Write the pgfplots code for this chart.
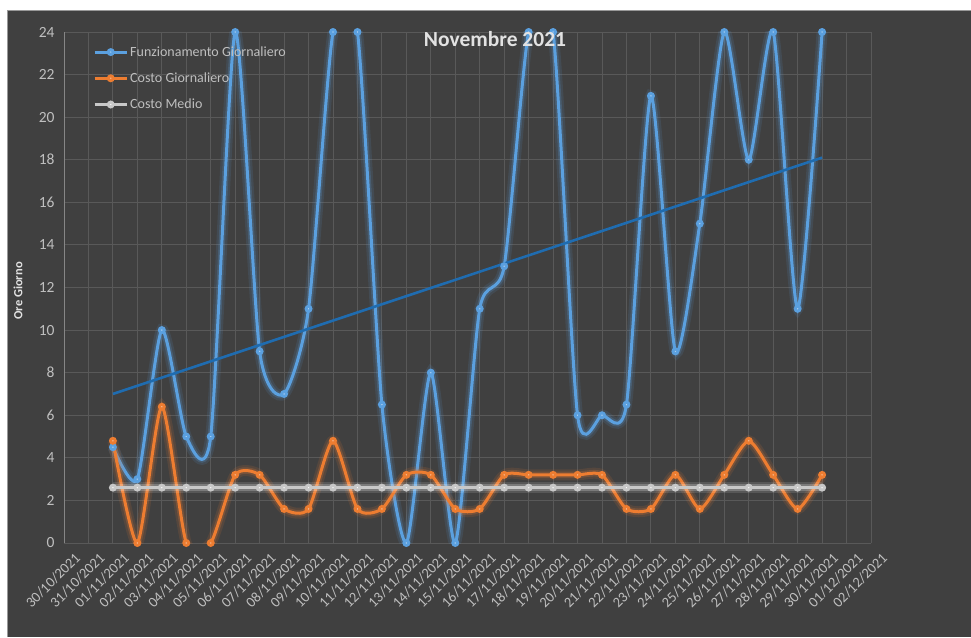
\documentclass[border=0pt]{standalone}
\usepackage{fontspec}
\setmainfont{Carlito}
\usepackage{pgfplots}
\pgfplotsset{compat=1.18}
\usepackage{pgfplotstable}

\definecolor{bg}{HTML}{404040}
\definecolor{gridc}{HTML}{595959}
\definecolor{tickc}{HTML}{BFBFBF}
\definecolor{func}{HTML}{5BA0DF}
\definecolor{cosc}{HTML}{ED7D31}
\definecolor{medc}{HTML}{C8C8C8}
\definecolor{trendc}{HTML}{1F6CB0}

% x: 0 = 30/10/2021 ... 33 = 02/12/2021
\pgfplotstableread{
x  fun  cos  med
2  4.5  4.8  2.6
3  3    0    2.6
4  10   6.4  2.6
5  5    0    2.6
6  5    0    2.6
7  24   3.2  2.6
8  9    3.2  2.6
9  7    1.6  2.6
10 11   1.6  2.6
11 24   4.8  2.6
12 24   1.6  2.6
13 6.5  1.6  2.6
14 0    3.2  2.6
15 8    3.2  2.6
16 0    1.6  2.6
17 11   1.6  2.6
18 13   3.2  2.6
19 24   3.2  2.6
20 24   3.2  2.6
21 6    3.2  2.6
22 6    3.2  2.6
23 6.5  1.6  2.6
24 21   1.6  2.6
25 9    3.2  2.6
26 15   1.6  2.6
27 24   3.2  2.6
28 18   4.8  2.6
29 24   3.2  2.6
30 11   1.6  2.6
31 24   3.2  2.6
}\dati

\pgfplotstableread{
x  y
2  7.0
31 18.1
}\tendenza

\pgfplotsset{
  curva/.style={smooth, tension=0.4},
  glow1/.style={forget plot, curva, no marks, line width=11pt, opacity=0.12},
  glow2/.style={forget plot, curva, no marks, line width=6.5pt, opacity=0.22},
}

\begin{document}
\begin{tikzpicture}
\fill[white] (0pt,0pt) rectangle (971pt,637pt);
\fill[bg] (7pt,0pt) rectangle (971pt,626pt);
\draw[tickc!70!bg, line width=1pt] (7pt,0pt) -- (7pt,626pt) -- (971pt,626pt);
\begin{axis}[
  at={(64pt,94pt)}, anchor=south west,
  scale only axis, width=807pt, height=511pt,
  xmin=0, xmax=33, ymin=0, ymax=24,
  xtick={0,...,33},
  xticklabels={30/10/2021,31/10/2021,01/11/2021,02/11/2021,03/11/2021,04/11/2021,05/11/2021,06/11/2021,07/11/2021,08/11/2021,09/11/2021,10/11/2021,11/11/2021,12/11/2021,13/11/2021,14/11/2021,15/11/2021,16/11/2021,17/11/2021,18/11/2021,19/11/2021,20/11/2021,21/11/2021,22/11/2021,23/11/2021,24/11/2021,25/11/2021,26/11/2021,27/11/2021,28/11/2021,29/11/2021,30/11/2021,01/12/2021,02/12/2021},
  ytick={0,2,...,24},
  grid=major,
  major grid style={gridc, line width=0.9pt},
  axis line style={gridc, line width=0.9pt},
  axis y line*=left,
  y axis line style={tickc!55!bg, line width=1pt},
  tick style={draw=none},
  ticklabel style={text=tickc},
  /pgf/number format/assume math mode=true,
  yticklabel style={font=\fontsize{15.5}{17}\selectfont, xshift=-6pt},
  x tick label style={font=\fontsize{14.5}{16}\selectfont, rotate=45, anchor=north east, inner sep=1pt, yshift=-12pt, xshift=2pt},
  legend style={at={(0.036,0.976)}, anchor=north west, draw=none, fill=none,
    font=\fontsize{14}{15}\selectfont, text=tickc, row sep=11pt, inner sep=0pt},
  legend cell align=left,
  legend image code/.code={\draw[mark repeat=2, mark phase=2, #1] plot coordinates {(0pt,0pt) (16pt,0pt) (32pt,0pt)};},
  clip=true,
]
% Funzionamento Giornaliero
\addplot[glow1, draw=func] table[x=x, y=fun] {\dati};
\addplot[glow2, draw=func] table[x=x, y=fun] {\dati};
\addplot[func, line width=3pt, curva, mark=*, mark size=2.4pt,
  mark options={solid, fill=func!45!white, draw=none}] table[x=x, y=fun] {\dati};
\addlegendentry{Funzionamento Giornaliero}
% Costo Giornaliero
\addplot[glow1, draw=cosc] table[x=x, y=cos] {\dati};
\addplot[glow2, draw=cosc] table[x=x, y=cos] {\dati};
\addplot[cosc, line width=3pt, curva, mark=*, mark size=2.4pt,
  mark options={solid, fill=cosc!45!white, draw=none}] table[x=x, y=cos] {\dati};
\addlegendentry{Costo Giornaliero}
% Costo Medio
\addplot[glow1, draw=white] table[x=x, y=med] {\dati};
\addplot[glow2, draw=white] table[x=x, y=med] {\dati};
\addplot[medc, line width=3pt, mark=*, mark size=2.4pt,
  mark options={solid, fill=white!90!medc, draw=none}] table[x=x, y=med] {\dati};
\addlegendentry{Costo Medio}
% Tendenza lineare
\addplot[forget plot, trendc, line width=2.6pt, no marks] table[x=x, y=y] {\tendenza};
\end{axis}
\node[font=\bfseries\fontsize{21.5}{24}\selectfont, text=white!85!bg] at (495pt,598pt) {Novembre 2021};
\node[rotate=90, font=\bfseries\fontsize{12.5}{14}\selectfont, text=white!85!bg] at (18pt,346pt) {Ore Giorno};
\pgfresetboundingbox
\useasboundingbox (0pt,0pt) rectangle (971pt,637pt);
\end{tikzpicture}
\end{document}
